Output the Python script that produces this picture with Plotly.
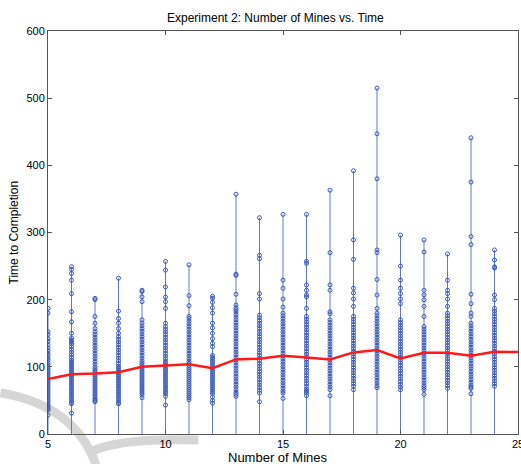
import plotly.graph_objects as go

mines = list(range(5, 25))
times = {
    5: [187, 180, 152, 148, 142, 138, 133, 128, 124, 120, 117, 113, 110, 106, 103, 100, 97, 94, 91, 88, 85, 82, 79, 76, 73, 70, 67, 64, 61, 58, 55, 52, 49, 46, 43, 40, 37, 36, 28],
    6: [249, 245, 239, 229, 209, 182, 167, 150, 143, 140, 137, 134, 130, 126, 122, 118, 114, 110, 107, 104, 101, 98, 95, 92, 89, 86, 83, 80, 77, 74, 71, 68, 65, 62, 59, 56, 53, 50, 47, 45, 31],
    7: [202, 200, 175, 165, 157, 152, 148, 144, 140, 136, 132, 128, 124, 120, 116, 112, 108, 104, 100, 97, 94, 91, 88, 85, 82, 79, 76, 73, 70, 67, 64, 61, 58, 55, 52, 50, 48],
    8: [232, 183, 172, 165, 157, 150, 145, 141, 137, 133, 129, 125, 121, 117, 113, 109, 105, 101, 98, 95, 92, 89, 86, 83, 80, 77, 74, 71, 68, 65, 62, 59, 56, 53, 50, 47, 45],
    9: [214, 212, 204, 197, 170, 165, 161, 157, 153, 149, 145, 141, 137, 133, 129, 125, 121, 117, 113, 109, 106, 103, 100, 97, 94, 91, 88, 85, 82, 79, 76, 73, 70, 67, 64, 61, 58, 54],
    10: [257, 244, 219, 204, 197, 187, 165, 160, 156, 152, 148, 144, 140, 136, 132, 128, 124, 120, 116, 112, 108, 105, 102, 99, 96, 93, 90, 87, 84, 81, 78, 75, 72, 69, 66, 63, 60, 56, 43],
    11: [252, 206, 191, 175, 172, 168, 164, 160, 156, 152, 148, 144, 140, 136, 132, 128, 124, 120, 116, 112, 108, 105, 102, 99, 96, 93, 90, 87, 84, 81, 78, 75, 72, 69, 66, 63, 60, 57, 54, 51],
    12: [205, 202, 196, 188, 180, 165, 158, 150, 142, 135, 130, 117, 114, 111, 108, 105, 102, 99, 96, 93, 90, 87, 84, 81, 78, 75, 72, 69, 66, 63, 60, 55, 50, 46],
    13: [357, 238, 236, 208, 192, 188, 185, 182, 178, 174, 170, 166, 162, 158, 154, 150, 146, 142, 138, 134, 130, 126, 122, 118, 114, 110, 106, 102, 98, 94, 90, 86, 82, 78, 74, 70, 66, 62, 59, 56],
    14: [322, 266, 261, 209, 201, 177, 173, 169, 165, 161, 157, 153, 149, 145, 141, 137, 133, 129, 125, 121, 117, 113, 109, 105, 101, 97, 93, 89, 85, 81, 77, 73, 69, 65, 61, 48],
    15: [327, 229, 217, 201, 189, 180, 176, 172, 168, 164, 160, 156, 152, 148, 144, 140, 136, 132, 128, 124, 120, 116, 112, 108, 104, 100, 96, 92, 88, 84, 80, 76, 72, 68, 64, 61, 53],
    16: [327, 257, 254, 222, 214, 207, 204, 187, 175, 171, 167, 163, 159, 155, 151, 147, 143, 139, 135, 131, 127, 123, 119, 115, 111, 107, 103, 99, 95, 91, 87, 83, 79, 75, 71, 67, 64, 61, 57],
    17: [363, 270, 222, 214, 182, 179, 170, 166, 162, 158, 154, 150, 146, 142, 138, 134, 130, 126, 122, 118, 114, 110, 106, 102, 98, 94, 90, 86, 82, 78, 74, 70, 66, 57],
    18: [392, 289, 260, 217, 210, 201, 190, 175, 171, 167, 163, 159, 155, 151, 147, 143, 139, 135, 131, 127, 123, 119, 115, 111, 107, 103, 99, 95, 91, 87, 83, 79, 75, 71, 66],
    19: [515, 447, 380, 274, 270, 230, 207, 187, 180, 176, 172, 168, 164, 160, 156, 152, 148, 144, 140, 136, 132, 128, 124, 120, 116, 112, 108, 104, 100, 96, 92, 88, 84, 80, 76, 72, 69],
    20: [296, 250, 229, 217, 209, 201, 194, 170, 166, 162, 158, 154, 150, 146, 142, 138, 134, 130, 126, 122, 118, 114, 110, 106, 102, 98, 94, 90, 86, 82, 78, 74, 70, 66],
    21: [289, 271, 214, 207, 200, 190, 175, 160, 156, 152, 148, 144, 140, 136, 132, 128, 124, 120, 116, 112, 108, 104, 100, 96, 92, 88, 84, 80, 76, 72, 69, 66, 59],
    22: [268, 229, 214, 209, 201, 190, 180, 176, 172, 168, 164, 160, 156, 152, 148, 144, 140, 136, 132, 128, 124, 120, 116, 112, 108, 104, 100, 96, 92, 88, 84, 80, 76, 72, 68],
    23: [441, 375, 294, 282, 208, 194, 180, 175, 165, 161, 157, 153, 149, 145, 141, 137, 133, 129, 125, 121, 117, 113, 109, 105, 101, 97, 93, 89, 85, 81, 77, 73, 70, 68, 60],
    24: [274, 259, 249, 247, 207, 200, 187, 183, 179, 175, 171, 167, 163, 159, 155, 151, 147, 143, 139, 135, 131, 127, 123, 119, 115, 111, 107, 103, 99, 95, 91, 87, 83, 79, 75, 71],
}
mean_x = list(range(5, 26))
mean_y = [82, 89, 90, 92, 100, 102, 104, 98, 111, 112, 116.5, 114, 111, 121.5, 125, 112.5, 121, 121, 116.5, 122.5, 122]
x_ticks = [5, 10, 15, 20, 25]
y_ticks = [0, 100, 200, 300, 400, 500, 600]

FONT = "Liberation Sans, Arial, Helvetica, sans-serif"
AXC = "#555555"

# stems from 0 to column max
sx, sy = [], []
for m in mines:
    sx += [m, m, None]
    sy += [0, max(times[m]), None]

px, py = [], []
for m in mines:
    px += [m] * len(times[m])
    py += times[m]

fig = go.Figure()
fig.add_trace(go.Scatter(x=sx, y=sy, mode="lines",
                         line=dict(color="#6078c8", width=1), hoverinfo="skip"))
fig.add_trace(go.Scatter(x=px, y=py, mode="markers",
                         marker=dict(symbol="circle-open", size=4, color="#3a58b8",
                                     line=dict(width=1, color="#3a58b8"))))
fig.add_trace(go.Scatter(x=mean_x, y=mean_y, mode="lines",
                         line=dict(color="#ff1a1a", width=2.5)))

# faint watermark swoosh behind the data
WM = "#d6d6d6"
fig.add_shape(type="path", xref="paper", yref="paper", layer="below",
              path="M -0.101,0.102 Q 0.06,0.07 0.103,-0.08",
              line=dict(color=WM, width=9))
fig.add_shape(type="path", xref="paper", yref="paper", layer="below",
              path="M 0.088,-0.047 Q 0.14,-0.01 0.32,-0.015",
              line=dict(color=WM, width=9))

fig.update_layout(
    width=524, height=464,
    margin=dict(l=48, r=0, t=31, b=30),
    paper_bgcolor="white", plot_bgcolor="rgba(0,0,0,0)",
    showlegend=False,
    font=dict(family=FONT, size=11, color="black"),
    xaxis=dict(range=[5, 25], tickvals=x_ticks, ticks="inside", ticklen=4,
               tickcolor=AXC, showline=True, linecolor=AXC, linewidth=1,
               mirror="allticks", showgrid=False, zeroline=False,
               ticklabeloverflow="allow",
               tickfont=dict(size=11, family=FONT)),
    yaxis=dict(range=[0, 600], tickvals=y_ticks, ticks="inside", ticklen=4,
               tickcolor=AXC, showline=True, linecolor=AXC, linewidth=1,
               mirror="allticks", showgrid=False, zeroline=False,
               tickfont=dict(size=11, family=FONT)),
    annotations=[
        dict(text="Experiment 2: Number of Mines vs. Time", xref="paper", yref="paper",
             x=0.483, y=1, xanchor="center", yanchor="bottom", yshift=4,
             showarrow=False, font=dict(size=12, family=FONT)),
        dict(text="Number of Mines", xref="paper", yref="paper",
             x=0.488, y=0, xanchor="center", yanchor="top", yshift=-14,
             showarrow=False, font=dict(size=13, family=FONT)),
        dict(text="Time to Completion", xref="paper", yref="paper", textangle=-90,
             x=0, y=0.5, xanchor="center", yanchor="middle", xshift=-35,
             showarrow=False, font=dict(size=12, family=FONT)),
    ],
)

fig.write_html("out.html", config={"displayModeBar": False},
               post_script="document.body.style.margin='0';document.body.style.overflow='hidden';")
